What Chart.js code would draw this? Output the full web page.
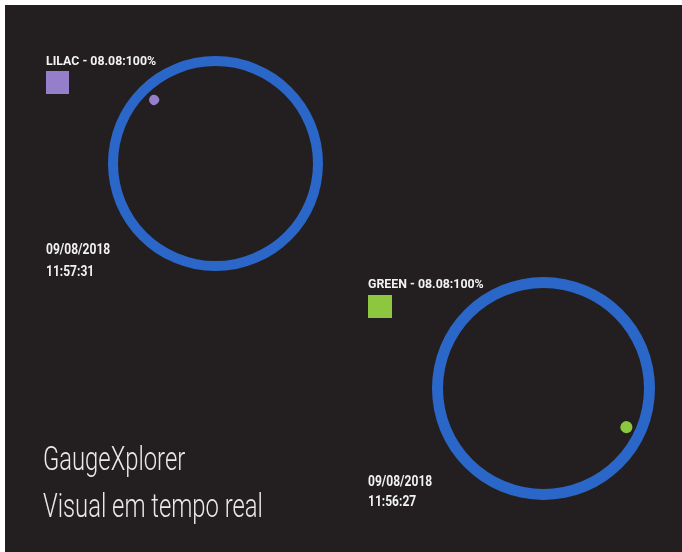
<!DOCTYPE html>
<html>
<head>
<meta charset="utf-8">
<script src="https://cdn.jsdelivr.net/npm/chart.js@4"></script>
<style>
  html, body { margin: 0; padding: 0; background: #ffffff; overflow: hidden; }
  #stage { position: fixed; left: 5px; top: 5px; right: -20px; bottom: -20px; background: #231f20; }
  canvas { position: absolute; top: 0; }
  #gaugeLeft { left: 0; }
  #gaugeRight { left: 340px; }
</style>
</head>
<body>
<div id="stage"></div>
<canvas id="gaugeLeft" width="340" height="552"></canvas>
<canvas id="gaugeRight" width="342" height="552"></canvas>
<script>
const gaugeNames = ["LILAC", "GREEN"];
const gaugeReadings = ["08.08", "08.08"];
const gaugePercent = [100, 100];
const markerAngles = [316, 115];   // degrees, clockwise from top
const gaugeDates = ["09/08/2018", "09/08/2018"];
const gaugeTimes = ["11:57:31", "11:56:27"];
const titleLines = ["GaugeXplorer", "Visual em tempo real"];

const ringBlue = "#2b66c9";
const textColor = "#f2f2f2";

// placement of each gauge inside its canvas
const layouts = [
    { canvas: "gaugeLeft", color: "#957fcb", showTitle: true,
      pad: { left: 108, top: 56, right: 17, bottom: 281 },
      ring: 10, gap: 4, dot: 10,
      label: [46, 65], box: [46, 71, 23, 23], date: [46, 254], time: [46, 276] },
    { canvas: "gaugeRight", color: "#8dc63f", showTitle: false,
      pad: { left: 92, top: 277, right: 27, bottom: 52 },
      ring: 11, gap: 3, dot: 12,
      label: [28, 288], box: [28, 295, 24, 23], date: [28, 486], time: [28, 506] }
];

function drawText(ctx, text, x, y, font, sx, color) {
    ctx.save();
    ctx.font = font;
    ctx.fillStyle = color;
    ctx.textBaseline = "alphabetic";
    ctx.textAlign = "left";
    ctx.translate(x, y);
    ctx.scale(sx, 1);
    ctx.fillText(text, 0, 0);
    ctx.restore();
}

layouts.forEach(function (L, i) {
    const canvas = document.getElementById(L.canvas);
    const radius = Math.min(canvas.width - L.pad.left - L.pad.right,
                            canvas.height - L.pad.top - L.pad.bottom) / 2;
    const inner = radius - L.ring - L.gap - L.dot;
    const dotMid = inner + L.dot / 2;
    const dotDeg = L.dot / dotMid * 180 / Math.PI;
    const a = markerAngles[i];

    const labelsPlugin = {
        id: "gaugeLabels",
        afterDraw(chart) {
            const ctx = chart.ctx;
            drawText(ctx, gaugeNames[i] + " - " + gaugeReadings[i] + ":" + gaugePercent[i] + "%",
                     L.label[0], L.label[1], "bold 13px Roboto", 0.95, textColor);
            ctx.save();
            ctx.fillStyle = L.color;
            ctx.fillRect(L.box[0], L.box[1], L.box[2], L.box[3]);
            ctx.restore();
            drawText(ctx, gaugeDates[i], L.date[0], L.date[1], "bold 14px Roboto", 0.86, textColor);
            drawText(ctx, gaugeTimes[i], L.time[0], L.time[1], "bold 14px Roboto", 0.86, textColor);
            if (L.showTitle) {
                drawText(ctx, titleLines[0], 43, 470, "300 34px Roboto", 0.7, "#e9e9e9");
                drawText(ctx, titleLines[1], 43, 517, "300 34px Roboto", 0.7, "#e9e9e9");
            }
        }
    };

    new Chart(canvas, {
        type: "doughnut",
        data: {
            labels: ["a", "b", "c"],
            datasets: [{
                data: [gaugePercent[i], 100 - gaugePercent[i]],
                backgroundColor: [ringBlue, "transparent"],
                borderWidth: 0,
                weight: L.ring
            }, {
                data: [1],
                backgroundColor: ["transparent"],
                borderWidth: 0,
                weight: L.gap
            }, {
                data: [a - dotDeg / 2, dotDeg, 360 - a - dotDeg / 2],
                backgroundColor: ["transparent", L.color, "transparent"],
                borderWidth: 0,
                borderRadius: L.dot / 2,
                weight: L.dot
            }]
        },
        options: {
            responsive: false,
            animation: false,
            events: [],
            cutout: (inner / radius * 100) + "%",
            layout: { padding: L.pad },
            plugins: {
                legend: { display: false },
                tooltip: { enabled: false }
            }
        },
        plugins: [labelsPlugin]
    });
});
</script>
</body>
</html>
